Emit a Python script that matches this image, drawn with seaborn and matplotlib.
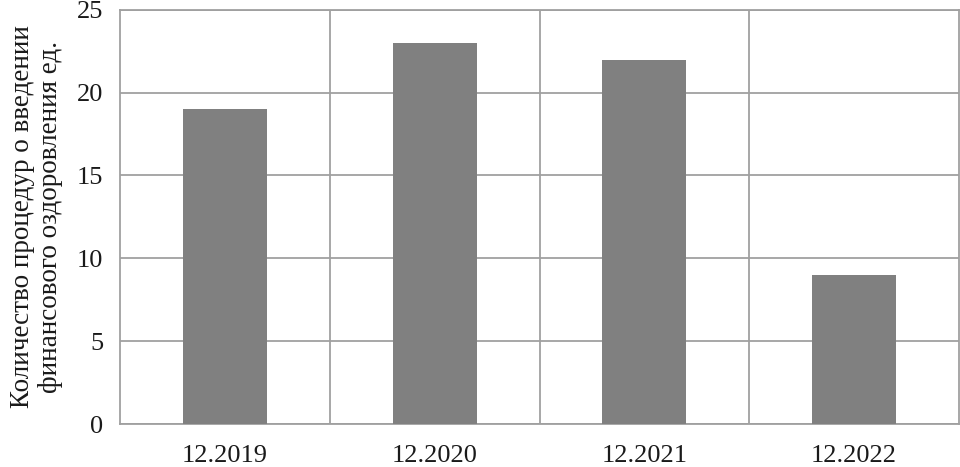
import pandas as pd
import numpy as np
import matplotlib.pyplot as plt
import seaborn as sns

periods = ['12.2019', '12.2020', '12.2021', '12.2022']
counts = [19, 23, 22, 9]

df = pd.DataFrame({'period': periods, 'count': counts})

sns.set_style('white')
plt.rcParams['font.family'] = ['Liberation Serif', 'DejaVu Serif']

fig = plt.figure(figsize=(9.6, 4.67), dpi=100)
ax = fig.add_axes([0.125, 0.092, 0.874, 0.887])

sns.barplot(x='period', y='count', data=df, color='#808080', width=0.4,
            saturation=1, linewidth=0, edgecolor='none', ax=ax, zorder=3)

ax.set_ylim(0, 25)
ax.set_yticks(range(0, 26, 5))
ax.set_xlim(-0.5, len(periods) - 0.5)
ax.set_xticks(np.arange(0.5, len(periods) - 0.5), minor=True)
ax.grid(True, which='major', axis='y', color='#a0a0a0', linewidth=1.3, zorder=0)
ax.grid(True, which='minor', axis='x', color='#a0a0a0', linewidth=1.3, zorder=0)
ax.tick_params(axis='both', which='both', length=0, labelsize=19, colors='#1a1a1a')
ax.tick_params(axis='x', pad=15)
ax.tick_params(axis='y', pad=12)

for side in ['left', 'right', 'top', 'bottom']:
    ax.spines[side].set_visible(True)
    ax.spines[side].set_color('#a0a0a0')
    ax.spines[side].set_linewidth(1.3)

ax.set_xlabel('')
ax.set_ylabel('Количество процедур о введении\nфинансового оздоровления ед.',
              fontsize=19.5, color='#1a1a1a', labelpad=10, linespacing=1.15)

plt.savefig('out.png', dpi=100)
